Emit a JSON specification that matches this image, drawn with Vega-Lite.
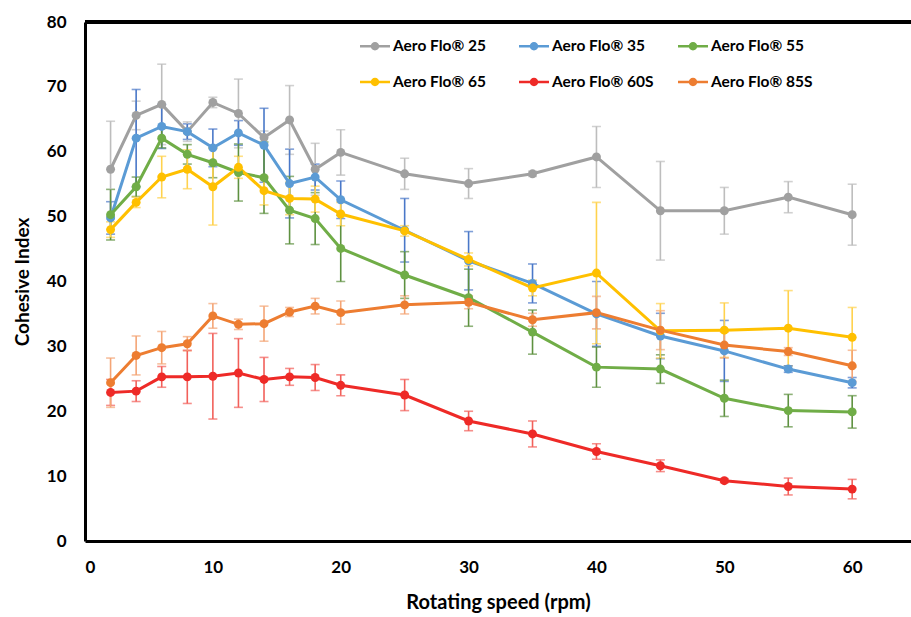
{
  "$schema": "https://vega.github.io/schema/vega-lite/v6.json",
  "width": 826,
  "height": 519,
  "autosize": {"type": "none"},
  "padding": {"left": 85, "top": 22, "right": 0, "bottom": 76},
  "background": "white",
  "config": {
    "view": {"stroke": null},
    "font": "Lato",
    "axis": {
      "grid": false,
      "ticks": false,
      "domain": true,
      "domainColor": "#000000",
      "domainWidth": 3,
      "labelFont": "Lato",
      "labelFontWeight": "bold",
      "labelFontSize": 17,
      "labelColor": "#000000",
      "titleFont": "Lato",
      "titleFontWeight": "bold",
      "titleColor": "#000000"
    }
  },
  "data": {"values": [
    {"s": "Aero Flo® 25", "x": 2, "v": 57.3, "e": 7.4},
    {"s": "Aero Flo® 25", "x": 4, "v": 65.6, "e": 2.2},
    {"s": "Aero Flo® 25", "x": 6, "v": 67.3, "e": 6.2},
    {"s": "Aero Flo® 25", "x": 8, "v": 63.1, "e": 1.5},
    {"s": "Aero Flo® 25", "x": 10, "v": 67.6, "e": 0.8},
    {"s": "Aero Flo® 25", "x": 12, "v": 65.9, "e": 5.3},
    {"s": "Aero Flo® 25", "x": 14, "v": 62.2, "e": 1.0},
    {"s": "Aero Flo® 25", "x": 16, "v": 64.9, "e": 5.3},
    {"s": "Aero Flo® 25", "x": 18, "v": 57.3, "e": 4.0},
    {"s": "Aero Flo® 25", "x": 20, "v": 59.9, "e": 3.5},
    {"s": "Aero Flo® 25", "x": 25, "v": 56.6, "e": 2.4},
    {"s": "Aero Flo® 25", "x": 30, "v": 55.1, "e": 2.3},
    {"s": "Aero Flo® 25", "x": 35, "v": 56.6, "e": 0.4},
    {"s": "Aero Flo® 25", "x": 40, "v": 59.2, "e": 4.7},
    {"s": "Aero Flo® 25", "x": 45, "v": 50.9, "e": 7.6},
    {"s": "Aero Flo® 25", "x": 50, "v": 50.9, "e": 3.6},
    {"s": "Aero Flo® 25", "x": 55, "v": 53.0, "e": 2.4},
    {"s": "Aero Flo® 25", "x": 60, "v": 50.3, "e": 4.7},

    {"s": "Aero Flo® 35", "x": 2, "v": 49.8, "e": 2.5},
    {"s": "Aero Flo® 35", "x": 4, "v": 62.1, "e": 7.5},
    {"s": "Aero Flo® 35", "x": 6, "v": 63.9, "e": 3.4},
    {"s": "Aero Flo® 35", "x": 8, "v": 63.1, "e": 1.2},
    {"s": "Aero Flo® 35", "x": 10, "v": 60.6, "e": 2.9},
    {"s": "Aero Flo® 35", "x": 12, "v": 62.9, "e": 1.9},
    {"s": "Aero Flo® 35", "x": 14, "v": 61.0, "e": 5.7},
    {"s": "Aero Flo® 35", "x": 16, "v": 55.1, "e": 5.3},
    {"s": "Aero Flo® 35", "x": 18, "v": 56.1, "e": 2.0},
    {"s": "Aero Flo® 35", "x": 20, "v": 52.6, "e": 2.9},
    {"s": "Aero Flo® 35", "x": 25, "v": 47.9, "e": 4.9},
    {"s": "Aero Flo® 35", "x": 30, "v": 43.2, "e": 4.5},
    {"s": "Aero Flo® 35", "x": 35, "v": 39.7, "e": 3.0},
    {"s": "Aero Flo® 35", "x": 40, "v": 35.0, "e": 5.0},
    {"s": "Aero Flo® 35", "x": 45, "v": 31.6, "e": 3.5},
    {"s": "Aero Flo® 35", "x": 50, "v": 29.3, "e": 4.7},
    {"s": "Aero Flo® 35", "x": 55, "v": 26.5, "e": 0.5},
    {"s": "Aero Flo® 35", "x": 60, "v": 24.4, "e": 0.8},

    {"s": "Aero Flo® 55", "x": 2, "v": 50.3, "e": 3.9},
    {"s": "Aero Flo® 55", "x": 4, "v": 54.6, "e": 1.5},
    {"s": "Aero Flo® 55", "x": 6, "v": 62.1, "e": 1.5},
    {"s": "Aero Flo® 55", "x": 8, "v": 59.6, "e": 1.5},
    {"s": "Aero Flo® 55", "x": 10, "v": 58.3, "e": 2.3},
    {"s": "Aero Flo® 55", "x": 12, "v": 56.8, "e": 4.4},
    {"s": "Aero Flo® 55", "x": 14, "v": 56.0, "e": 5.5},
    {"s": "Aero Flo® 55", "x": 16, "v": 51.0, "e": 5.2},
    {"s": "Aero Flo® 55", "x": 18, "v": 49.7, "e": 4.0},
    {"s": "Aero Flo® 55", "x": 20, "v": 45.1, "e": 5.1},
    {"s": "Aero Flo® 55", "x": 25, "v": 41.0, "e": 3.6},
    {"s": "Aero Flo® 55", "x": 30, "v": 37.5, "e": 4.4},
    {"s": "Aero Flo® 55", "x": 35, "v": 32.2, "e": 3.4},
    {"s": "Aero Flo® 55", "x": 40, "v": 26.8, "e": 3.1},
    {"s": "Aero Flo® 55", "x": 45, "v": 26.5, "e": 2.2},
    {"s": "Aero Flo® 55", "x": 50, "v": 22.0, "e": 2.8},
    {"s": "Aero Flo® 55", "x": 55, "v": 20.1, "e": 2.5},
    {"s": "Aero Flo® 55", "x": 60, "v": 19.9, "e": 2.5},

    {"s": "Aero Flo® 65", "x": 2, "v": 48.0, "e": 1.2},
    {"s": "Aero Flo® 65", "x": 4, "v": 52.2, "e": 0.8},
    {"s": "Aero Flo® 65", "x": 6, "v": 56.1, "e": 3.2},
    {"s": "Aero Flo® 65", "x": 8, "v": 57.3, "e": 3.0},
    {"s": "Aero Flo® 65", "x": 10, "v": 54.6, "e": 5.9},
    {"s": "Aero Flo® 65", "x": 12, "v": 57.6, "e": 1.7},
    {"s": "Aero Flo® 65", "x": 14, "v": 54.0, "e": 2.2},
    {"s": "Aero Flo® 65", "x": 16, "v": 52.8, "e": 2.5},
    {"s": "Aero Flo® 65", "x": 18, "v": 52.7, "e": 2.0},
    {"s": "Aero Flo® 65", "x": 20, "v": 50.4, "e": 1.8},
    {"s": "Aero Flo® 65", "x": 25, "v": 47.8, "e": 0.8},
    {"s": "Aero Flo® 65", "x": 30, "v": 43.4, "e": 1.0},
    {"s": "Aero Flo® 65", "x": 35, "v": 39.0, "e": 1.2},
    {"s": "Aero Flo® 65", "x": 40, "v": 41.3, "e": 10.9},
    {"s": "Aero Flo® 65", "x": 45, "v": 32.4, "e": 4.2},
    {"s": "Aero Flo® 65", "x": 50, "v": 32.5, "e": 4.2},
    {"s": "Aero Flo® 65", "x": 55, "v": 32.8, "e": 5.8},
    {"s": "Aero Flo® 65", "x": 60, "v": 31.4, "e": 4.6},

    {"s": "Aero Flo® 60S", "x": 2, "v": 22.9, "e": 2.0},
    {"s": "Aero Flo® 60S", "x": 4, "v": 23.1, "e": 1.6},
    {"s": "Aero Flo® 60S", "x": 6, "v": 25.3, "e": 1.6},
    {"s": "Aero Flo® 60S", "x": 8, "v": 25.3, "e": 4.1},
    {"s": "Aero Flo® 60S", "x": 10, "v": 25.4, "e": 6.6},
    {"s": "Aero Flo® 60S", "x": 12, "v": 25.9, "e": 5.3},
    {"s": "Aero Flo® 60S", "x": 14, "v": 24.9, "e": 3.4},
    {"s": "Aero Flo® 60S", "x": 16, "v": 25.3, "e": 1.3},
    {"s": "Aero Flo® 60S", "x": 18, "v": 25.2, "e": 2.0},
    {"s": "Aero Flo® 60S", "x": 20, "v": 24.0, "e": 1.6},
    {"s": "Aero Flo® 60S", "x": 25, "v": 22.5, "e": 2.4},
    {"s": "Aero Flo® 60S", "x": 30, "v": 18.5, "e": 1.5},
    {"s": "Aero Flo® 60S", "x": 35, "v": 16.5, "e": 2.0},
    {"s": "Aero Flo® 60S", "x": 40, "v": 13.8, "e": 1.2},
    {"s": "Aero Flo® 60S", "x": 45, "v": 11.6, "e": 0.9},
    {"s": "Aero Flo® 60S", "x": 50, "v": 9.3, "e": 0.3},
    {"s": "Aero Flo® 60S", "x": 55, "v": 8.4, "e": 1.3},
    {"s": "Aero Flo® 60S", "x": 60, "v": 8.0, "e": 1.5},

    {"s": "Aero Flo® 85S", "x": 2, "v": 24.4, "e": 3.8},
    {"s": "Aero Flo® 85S", "x": 4, "v": 28.6, "e": 3.0},
    {"s": "Aero Flo® 85S", "x": 6, "v": 29.8, "e": 2.5},
    {"s": "Aero Flo® 85S", "x": 8, "v": 30.4, "e": 1.1},
    {"s": "Aero Flo® 85S", "x": 10, "v": 34.7, "e": 1.9},
    {"s": "Aero Flo® 85S", "x": 12, "v": 33.4, "e": 0.8},
    {"s": "Aero Flo® 85S", "x": 14, "v": 33.5, "e": 2.7},
    {"s": "Aero Flo® 85S", "x": 16, "v": 35.3, "e": 0.7},
    {"s": "Aero Flo® 85S", "x": 18, "v": 36.2, "e": 1.2},
    {"s": "Aero Flo® 85S", "x": 20, "v": 35.2, "e": 1.8},
    {"s": "Aero Flo® 85S", "x": 25, "v": 36.4, "e": 1.4},
    {"s": "Aero Flo® 85S", "x": 30, "v": 36.8, "e": 1.0},
    {"s": "Aero Flo® 85S", "x": 35, "v": 34.1, "e": 1.0},
    {"s": "Aero Flo® 85S", "x": 40, "v": 35.2, "e": 2.5},
    {"s": "Aero Flo® 85S", "x": 45, "v": 32.5, "e": 3.0},
    {"s": "Aero Flo® 85S", "x": 50, "v": 30.2, "e": 2.0},
    {"s": "Aero Flo® 85S", "x": 55, "v": 29.2, "e": 0.6},
    {"s": "Aero Flo® 85S", "x": 60, "v": 27.0, "e": 2.4}
  ]},
  "layer": [
    {
      "mark": {"type": "errorbar", "ticks": {"size": 9}, "thickness": 1.6},
      "encoding": {
        "x": {"field": "x", "type": "quantitative",
              "scale": {"domain": [0, 64.6], "nice": false, "zero": true},
              "axis": {"values": [0, 10, 20, 30, 40, 50, 60], "labelPadding": 18, "title": "Rotating speed (rpm)", "titleFontSize": 20, "titlePadding": 17}},
        "y": {"field": "v", "type": "quantitative",
              "scale": {"domain": [0, 80], "nice": false},
              "axis": {"values": [0, 10, 20, 30, 40, 50, 60, 70, 80], "labelPadding": 19, "title": "Cohesive Index", "titleFontSize": 19, "titlePadding": 14}},
        "yError": {"field": "e"},
        "color": {"field": "s", "type": "nominal",
                  "scale": {"domain": ["Aero Flo® 25", "Aero Flo® 35", "Aero Flo® 55", "Aero Flo® 65", "Aero Flo® 60S", "Aero Flo® 85S"],
                            "range": ["#BDBDBD", "#4A78C8", "#5E9140", "#FFD24D", "#F2605A", "#F4A576"]},
                  "legend": null}
      }
    },
    {
      "mark": {"type": "line", "strokeWidth": 3},
      "encoding": {
        "x": {"field": "x", "type": "quantitative"},
        "y": {"field": "v", "type": "quantitative"},
        "color": {"field": "s", "type": "nominal",
                  "scale": {"domain": ["Aero Flo® 25", "Aero Flo® 35", "Aero Flo® 55", "Aero Flo® 65", "Aero Flo® 60S", "Aero Flo® 85S"],
                            "range": ["#A0A0A0", "#5B9BD5", "#70AD47", "#FFC000", "#EE2A27", "#ED7D31"]},
                  "legend": null}
      }
    },
    {
      "mark": {"type": "point", "filled": true, "size": 80, "opacity": 1},
      "encoding": {
        "x": {"field": "x", "type": "quantitative"},
        "y": {"field": "v", "type": "quantitative"},
        "color": {"field": "s", "type": "nominal",
                  "scale": {"domain": ["Aero Flo® 25", "Aero Flo® 35", "Aero Flo® 55", "Aero Flo® 65", "Aero Flo® 60S", "Aero Flo® 85S"],
                            "range": ["#A0A0A0", "#5B9BD5", "#70AD47", "#FFC000", "#EE2A27", "#ED7D31"]},
                  "legend": {
                    "title": null,
                    "orient": "none",
                    "legendX": 275,
                    "legendY": 9,
                    "direction": "horizontal",
                    "columns": 3,
                    "gridAlign": "all",
                    "columnPadding": 24,
                    "rowPadding": 12,
                    "symbolType": "M-1,-0.08H1V0.08H-1Z M-0.28,0A0.28,0.28 0 1,1 0.28,0A0.28,0.28 0 1,1 -0.28,0Z",
                    "symbolSize": 900,
                    "symbolStrokeWidth": 0,
                    "symbolOpacity": 1,
                    "labelFont": "Lato",
                    "labelFontWeight": "bold",
                    "labelFontSize": 15.5,
                    "labelColor": "#000000",
                    "labelOffset": 3,
                    "labelLimit": 200
                  }}
      }
    },
    {
      "mark": {"type": "rule", "color": "#000000", "strokeWidth": 3},
      "encoding": {"y": {"datum": 80}}
    }
  ],
  "resolve": {"scale": {"color": "independent"}, "legend": {"color": "independent"}}
}
